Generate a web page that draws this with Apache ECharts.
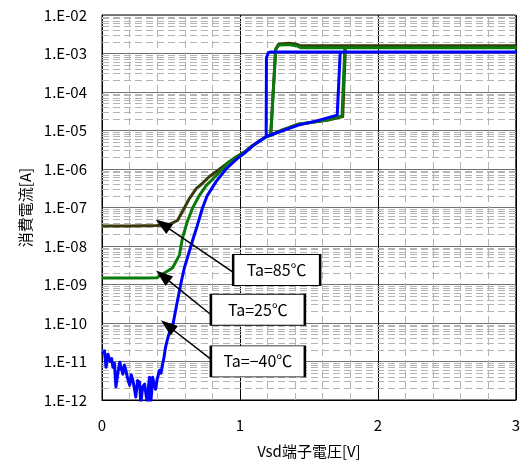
<!DOCTYPE html>
<html><head><meta charset="utf-8">
<script src="https://cdn.jsdelivr.net/npm/echarts@6/dist/echarts.min.js"></script>
<style>html,body{margin:0;padding:0;background:#fff}#c{width:523px;height:464px}</style>
</head><body><div id="c"></div>
<script>
// ---- data ----
const yTickLabels = ['1.E-12','1.E-11','1.E-10','1.E-09','1.E-08','1.E-07','1.E-06','1.E-05','1.E-04','1.E-03','1.E-02'];
const xTickLabels = ['0','1','2','3'];
const xTitle = 'Vsd端子電圧[V]';
const yTitle = '消費電流[A]';

// Ta=85℃ (sweep up, jump, then sweep back down with hysteresis)
const v85 = [0,0.1,0.2,0.3,0.4,0.45,0.489,0.547,0.583,0.633,0.683,0.727,0.777,0.827,0.921,0.971,1.043,1.086,1.187,1.223,1.259,1.281,1.353,1.41,1.439,3.0,1.765,1.745,1.64,1.424,1.302,1.223];
const i85 = [3.3e-8,3.3e-8,3.3e-8,3.35e-8,3.4e-8,3.5e-8,3.65e-8,4.6e-8,7.9e-8,1.7e-7,3.1e-7,4.2e-7,6.3e-7,8.5e-7,1.53e-6,2.06e-6,2.94e-6,3.96e-6,6.76e-6,7.6e-6,1.3e-3,1.75e-3,1.85e-3,1.75e-3,1.58e-3,1.58e-3,1.58e-3,2.3e-5,1.86e-5,1.46e-5,1.02e-5,7.6e-6];

// Ta=25℃
const v25 = [0,0.1,0.2,0.3,0.4,0.417,0.511,0.561,0.583,0.619,0.655,0.705,0.755,0.827,0.921,0.971,1.043,1.086,1.187,1.223,1.259,1.281,1.353,1.41,1.44,3.0,1.76,1.74,1.64,1.424,1.302,1.223];
const i25 = [1.48e-9,1.48e-9,1.48e-9,1.48e-9,1.5e-9,1.67e-9,2.68e-9,5.8e-9,1.59e-8,4.35e-8,9.4e-8,2.04e-7,3.7e-7,6.7e-7,1.53e-6,2.0e-6,2.9e-6,3.9e-6,6.7e-6,7.5e-6,1.25e-3,1.65e-3,1.7e-3,1.6e-3,1.42e-3,1.42e-3,1.42e-3,2.4e-5,1.9e-5,1.45e-5,1.0e-5,7.5e-6];

// Ta=-40℃
const vm40 = [0,0.007,0.018,0.029,0.043,0.058,0.07,0.079,0.09,0.101,0.115,0.129,0.14,0.151,0.162,0.173,0.187,0.201,0.212,0.223,0.235,0.245,0.258,0.273,0.281,0.295,0.309,0.32,0.331,0.338,0.345,0.353,0.36,0.367,0.378,0.388,0.4,0.417,0.428,0.439,0.45,0.46,0.475,0.489,0.511,0.547,0.575,0.597,0.655,0.691,0.727,0.763,0.827,0.899,0.978,1.043,1.10,1.19,1.192,1.205,1.223,3.0,1.727,1.705,1.55,1.424,1.302,1.19];
const im40 = [1.6e-11,1.45e-11,1.9e-11,7.1e-12,1.55e-11,1.0e-11,1.2e-11,7.1e-12,9e-12,2.2e-12,5e-12,9.6e-12,6.5e-12,4.7e-12,8e-12,5.9e-12,3.5e-12,2.4e-12,4.5e-12,3.3e-12,2.0e-12,1.2e-12,3.2e-12,2.9e-12,8e-13,2.2e-12,2.6e-12,1.3e-12,8e-13,2.5e-12,3.9e-12,8e-13,1.6e-12,3.9e-12,2.5e-12,1.9e-12,3.5e-12,5.9e-12,5e-12,8.5e-12,1.3e-11,2.3e-11,3.8e-11,5.7e-11,8e-11,3.8e-10,1.2e-9,2.7e-9,1.33e-8,3.4e-8,9.4e-8,2.04e-7,4.7e-7,1.0e-6,1.83e-6,2.77e-6,4.2e-6,7.0e-6,7.8e-4,1.05e-3,1.1e-3,1.1e-3,1.1e-3,2.5e-5,1.75e-5,1.38e-5,9.6e-6,7.0e-6];

// minor grid positions
const xMinor = [0.2,0.4,0.6,0.8,1.2,1.4,1.6,1.8,2.2,2.4,2.6,2.8];
const yMinorMultipliers = [2,3,4,5,6,7,8,9];
const yDecades = [-12,-11,-10,-9,-8,-7,-6,-5,-4,-3];

// annotations: label, box centre [V, I], arrow start [V, I], arrow tip [V, I]
const annLabels = ['Ta=85℃','Ta=25℃','Ta=−40℃'];
const annBox = [[1.266,2.38e-9],[1.13,2.21e-10],[1.13,1.01e-11]];
const annFrom = [[0.957,1.99e-9],[0.791,1.64e-10],[0.791,1.14e-11]];
const annTip = [[0.44,3.65e-8],[0.44,1.67e-9],[0.475,8.6e-11]];

// ---- chart ----
const zip = (a,b)=>a.map((x,k)=>[x,b[k]]);
const yMinor = [];
yDecades.forEach(d=>yMinorMultipliers.forEach(m=>yMinor.push(m*Math.pow(10,d))));
const FONT = '"Noto Sans CJK JP", "Noto Sans", sans-serif';
const X_MIN = 0, X_MAX = 3, Y_MIN = 1e-12, Y_MAX = 1e-2;

const chart = echarts.init(document.getElementById('c'), null, {renderer:'canvas'});
const lineCommon = {type:'line', showSymbol:false, symbol:'none', smooth:false, clip:true, animation:false};

chart.setOption({
  backgroundColor:'#fff',
  animation:false,
  grid:{left:102,right:4,top:15,bottom:61,show:true,borderColor:'#000',borderWidth:1,backgroundColor:'transparent'},
  xAxis:{type:'value',min:X_MIN,max:X_MAX,interval:1,
    name:xTitle,nameLocation:'middle',nameGap:44,
    nameTextStyle:{fontFamily:FONT,fontSize:15,color:'#000'},
    axisLine:{show:true,lineStyle:{color:'#000',width:1}},
    axisTick:{show:false},
    axisLabel:{margin:18,fontFamily:FONT,fontSize:15,color:'#000',
      formatter:(v)=>{const k=Math.round(v);return xTickLabels[k]!==undefined?xTickLabels[k]:'';}},
    splitLine:{show:true,lineStyle:{color:'#000',width:1}}},
  yAxis:{type:'log',logBase:10,min:Y_MIN,max:Y_MAX,splitNumber:10,
    name:yTitle,nameLocation:'middle',nameGap:68,nameRotate:90,
    nameTextStyle:{fontFamily:FONT,fontSize:15,color:'#000'},
    axisLine:{show:true,lineStyle:{color:'#000',width:1}},
    axisTick:{show:false},
    axisLabel:{margin:15,fontFamily:FONT,fontSize:15,color:'#000',
      formatter:(v)=>{const e=Math.round(Math.log10(v));return yTickLabels[e+12]||'';}},
    splitLine:{show:true,lineStyle:{color:'#707070',width:1}}},
  series:[
    {type:'line',data:[],z:1,silent:true,animation:false,
      markLine:{z:1,silent:true,symbol:['none','none'],animation:false,label:{show:false},
        lineStyle:{type:[7,4],color:'#b4b4b4',width:1},
        emphasis:{disabled:true},
        data:[...xMinor.map(v=>[{coord:[v,Y_MIN]},{coord:[v,Y_MAX]}]),
              ...yMinor.map(v=>[{coord:[X_MIN,v]},{coord:[X_MAX,v]}])]}},
    Object.assign({},lineCommon,{name:'85',z:3,data:zip(v85,i85),lineStyle:{width:3,color:'#3a3a0c',join:'round'},itemStyle:{color:'#3a3a0c'}}),
    Object.assign({},lineCommon,{name:'25',z:4,data:zip(v25,i25),lineStyle:{width:3,color:'#0a7a0a',join:'round'},itemStyle:{color:'#0a7a0a'}}),
    Object.assign({},lineCommon,{name:'-40',z:5,data:zip(vm40,im40),lineStyle:{width:3,color:'#0000ff',join:'round'},itemStyle:{color:'#0000ff'}}),
    {type:'line',data:[],z:10,silent:true,animation:false,
      markLine:{z:10,silent:true,animation:false,symbol:['none','triangle'],symbolSize:[12,17],label:{show:false},
        lineStyle:{type:'solid',color:'#000',width:1.5},
        itemStyle:{color:'#000'},
        emphasis:{disabled:true},
        data:annFrom.map((f,k)=>[{coord:f},{coord:annTip[k]}])},
      markPoint:{z:11,silent:true,animation:false,
        data:annBox.map((b,k)=>({coord:b,symbol:'rect',symbolSize:[k===0?87:94,31],
          itemStyle:{color:'#fff',borderColor:'#000',borderWidth:1.5},
          label:{show:true,position:'inside',formatter:annLabels[k],fontFamily:FONT,fontSize:16,color:'#000'}}))}}
  ]
});
</script></body></html>
